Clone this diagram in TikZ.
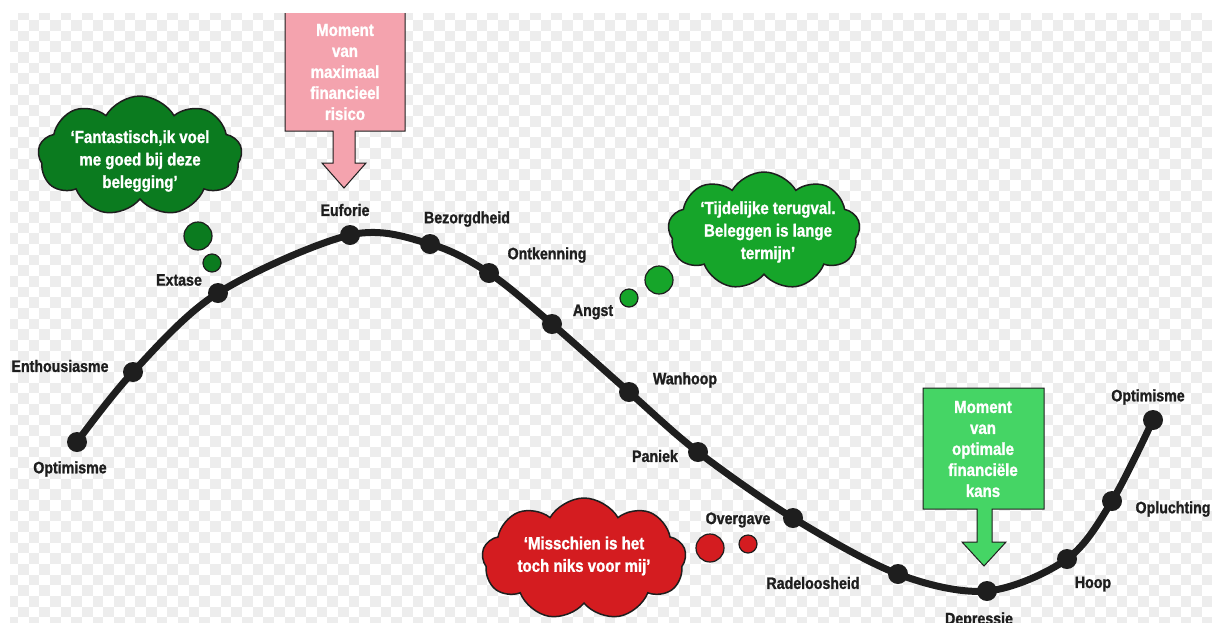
\documentclass[tikz,border=0pt]{standalone}
\usepackage{fontspec}
\newfontfamily\cond{Liberation Sans}[FakeStretch=0.86, BoldFeatures={FakeBold=1.2}]
\usetikzlibrary{shapes.symbols}
\definecolor{checker}{HTML}{EDEDED}
\definecolor{ink}{HTML}{1E1E1E}
\definecolor{darkgreen}{HTML}{0B7B1F}
\definecolor{midgreen}{HTML}{16A52A}
\definecolor{cloudred}{HTML}{D41C20}
\definecolor{boxpink}{HTML}{F4A3AE}
\definecolor{boxgreen}{HTML}{45D565}
\tikzset{
  curve/.style={line width=7pt, draw=ink, line cap=round},
  dot/.style={circle, fill=ink, minimum size=20pt, inner sep=0pt},
  lbl/.style={font=\cond\bfseries\fontsize{16.5}{19}\selectfont, text=ink, inner sep=0pt},
  arrowbox/.style={draw=ink, line width=1pt, line join=miter},
  boxtext/.style={font=\cond\bfseries\fontsize{17.5}{21}\selectfont, text=white, align=center, inner sep=0pt},
  thought/.style={cloud, cloud puffs=9, cloud puff arc=120, cloud ignores aspect, draw=ink, line width=1.5pt, inner sep=0pt},
  bubble/.style={circle, draw=ink, line width=1.2pt, inner sep=0pt},
  cloudtext/.style={font=\cond\bfseries\fontsize{17.5}{22.5}\selectfont, text=white, align=center, inner sep=0pt}
}
\begin{document}
\begin{tikzpicture}[x=1pt,y=-1pt]
\useasboundingbox (0,0) rectangle (1212,622);
\fill[white] (0,0) rectangle (1212,622);
% transparency checkerboard
\begin{scope}
\clip (10,13) rectangle (1212,622);
\foreach \j in {-1,...,57}{
  \foreach \i in {-1,...,112}{
    \pgfmathtruncatemacro\t{\i+\j+100}
    \ifodd\t
      \fill[checker] ({18+10.667*\i},{20+10.667*\j}) rectangle ++(10.667,10.667);
    \fi
  }
}
\end{scope}

% pink arrow box
\begin{scope}
\clip (0,13) rectangle (1212,622);
\draw[arrowbox, fill=boxpink] (285,0) -- (405,0) -- (405,131) -- (355,131) -- (355,163) -- (366,163) -- (344,188) -- (322,163) -- (333,163) -- (333,131) -- (285,131) -- cycle;
\end{scope}
\node[boxtext] (risk) at (345,72) {Moment\\van\\maximaal\\financieel\\risico};

% green arrow box
\draw[arrowbox, fill=boxgreen] (923,388) -- (1044,388) -- (1044,509) -- (992,509) -- (992,542) -- (1006,542) -- (984,566) -- (962,542) -- (977,542) -- (977,509) -- (923,509) -- cycle;
\node[boxtext] (chance) at (983,449) {Moment\\van\\optimale\\financiële\\kans};

% curve
\coordinate (c1) at (77,442);
\coordinate (c2) at (133,372);
\coordinate (c3) at (218,293);
\coordinate (c4) at (350,235);
\coordinate (c5) at (430,244);
\coordinate (c6) at (489,273);
\coordinate (c7) at (552,324);
\coordinate (c8) at (629,392);
\coordinate (c9) at (698,452);
\coordinate (c10) at (793,518);
\coordinate (c11) at (898,574);
\coordinate (c12) at (987,591);
\coordinate (c13) at (1067,559);
\coordinate (c14) at (1112,501);
\coordinate (c15) at (1153,420);
\draw[curve] plot[smooth, tension=0.55] coordinates {(c1) (c2) (c3) (c4) (c5) (c6) (c7) (c8) (c9) (c10) (c11) (c12) (c13) (c14) (c15)};
\foreach \k in {1,...,15}{ \node[dot] (d\k) at (c\k) {}; }

% labels
\node[lbl] (l1) at (70,469) {Optimisme};
\node[lbl] (l2) at (60,366) {Enthousiasme};
\node[lbl] (l3) at (179,280) {Extase};
\node[lbl] (l4) at (345,210) {Euforie};
\node[lbl] (l5) at (467,219) {Bezorgdheid};
\node[lbl] (l6) at (547,255) {Ontkenning};
\node[lbl] (l7) at (593,312) {Angst};
\node[lbl] (l8) at (685,380) {Wanhoop};
\node[lbl] (l9) at (655,456) {Paniek};
\node[lbl] (l10) at (738,520) {Overgave};
\node[lbl] (l11) at (813,583) {Radeloosheid};
\node[lbl] (l12) at (979,620) {Depressie};
\node[lbl] (l13) at (1093,584) {Hoop};
\node[lbl] (l14) at (1173,509) {Opluchting};
\node[lbl] (l15) at (1148,397) {Optimisme};

% thought clouds
\node[thought, fill=darkgreen, minimum width=204pt, minimum height=120pt] (t1) at (140,156) {};
\node[cloudtext] (tt1) at (140,161) {‘Fantastisch,ik voel\\me goed bij deze\\belegging’};
\node[bubble, fill=darkgreen, minimum size=28pt] (b1a) at (198,236) {};
\node[bubble, fill=darkgreen, minimum size=18pt] (b1b) at (212,263) {};

\node[thought, fill=midgreen, minimum width=192pt, minimum height=118pt] (t2) at (764,231) {};
\node[cloudtext] (tt2) at (768,232) {‘Tijdelijke terugval.\\Beleggen is lange\\termijn’};
\node[bubble, fill=midgreen, minimum size=28pt] (b2a) at (659,280) {};
\node[bubble, fill=midgreen, minimum size=18pt] (b2b) at (629,298) {};

\node[thought, fill=cloudred, minimum width=204pt, minimum height=122pt] (t3) at (584,559) {};
\node[cloudtext] (tt3) at (584,556) {‘Misschien is het\\toch niks voor mij’};
\node[bubble, fill=cloudred, minimum size=28pt] (b3a) at (710,548) {};
\node[bubble, fill=cloudred, minimum size=18pt] (b3b) at (748,544) {};
\end{tikzpicture}
\end{document}
